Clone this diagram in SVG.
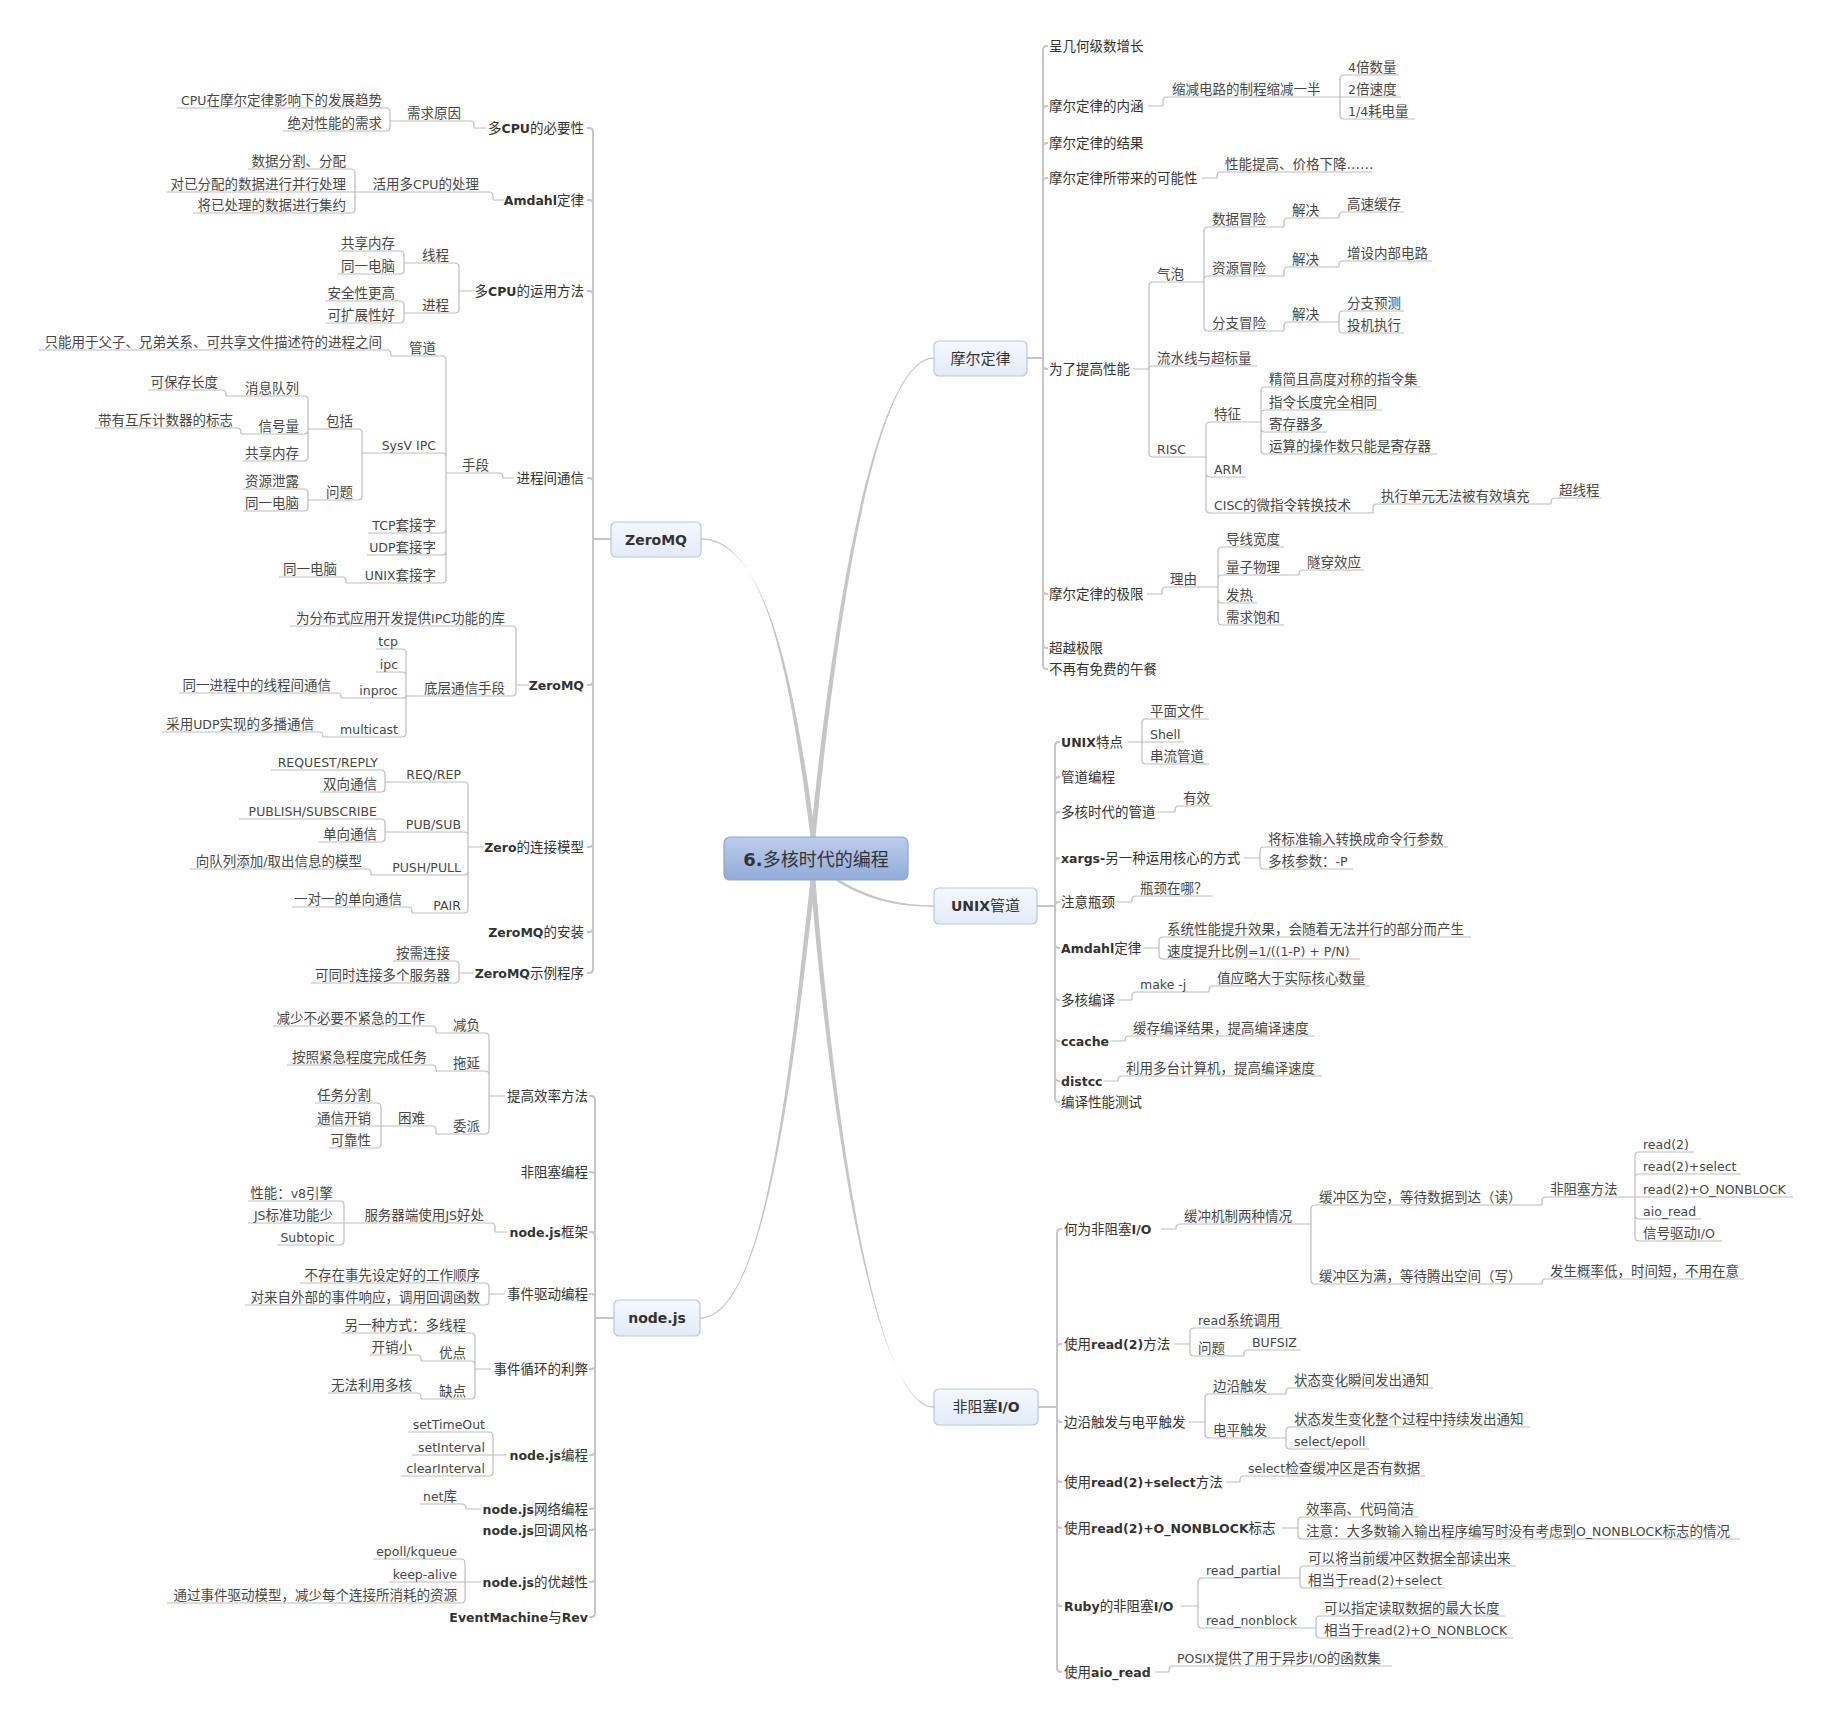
<svg xmlns="http://www.w3.org/2000/svg" width="1828" height="1717" viewBox="0 0 1828 1717">
<defs>
<linearGradient id="gc" x1="0" y1="0" x2="0" y2="1"><stop offset="0" stop-color="#bccdeb"/><stop offset="1" stop-color="#90acd9"/></linearGradient>
<linearGradient id="gb" x1="0" y1="0" x2="0" y2="1"><stop offset="0" stop-color="#f5f8fe"/><stop offset="1" stop-color="#e3ebf8"/></linearGradient>
<style>
.t{font-family:"DejaVu Sans","Noto Sans CJK SC",sans-serif;font-size:13.5px;fill:#474747}
.e{font-size:12.5px}
.b{font-weight:bold;fill:#333}
.h{fill:#333}
.r{text-anchor:end}
.c{fill:none;stroke:#bdbdbd;stroke-width:1.2}
.m{fill:none;stroke:#c6c6c6;stroke-width:2}
.k{fill:#c6c6c6}
.bx{fill:url(#gb);stroke:#b7c7e0;stroke-width:1.2}
.bt{font-family:"DejaVu Sans","Noto Sans CJK SC",sans-serif;font-size:15px;fill:#333;text-anchor:middle}
</style>
</defs>
<rect width="1828" height="1717" fill="#fff"/>
<g id="connectors">
<path class="k" d="M810.5 837C793 700 770 538.3 701 538.3L701 539.7C770 539.7 797 700 815.5 837Z"/>
<path class="k" d="M810.5 837C843 520 888 357.3 934 357.3L934 358.7C888 358.7 847 520 815.5 837Z"/>
<path class="k" d="M810.5 880C793 1030 770 1317.3 700 1317.3L700 1318.7C770 1318.7 797 1030 815.5 880Z"/>
<path class="k" d="M810.5 880C833 1150 878 1406.3 934 1406.3L934 1407.7C878 1407.7 837 1150 815.5 880Z"/>
<path class="k" d="M837 878.5C870 898.5 900 905.3 934 905.3L934 906.7C900 906.7 870 901.5 837 881.5Z"/>
<!-- ZeroMQ main spine -->
<path class="m" d="M611 539H593M593 539V132Q593 128 589 128H587M593 539V204Q593 200 589 200H587M593 539V295Q593 291 589 291H587M593 539V482Q593 478 589 478H587M593 539V681Q593 685 589 685H587M593 539V843Q593 847 589 847H587M593 539V928Q593 932 589 932H587M593 539V969Q593 973 589 973H587"/>
<path class="c" d="M474 128H486M474 128V125Q474 121 470 121H390M390 121V112Q390 108 386 108H177M390 121V127Q390 131 386 131H283"/>
<path class="c" d="M493 200H504M493 200V196Q493 192 489 192H355M355 192V173Q355 169 351 169H248M355 192H166M355 192V209Q355 213 351 213H193"/>
<path class="c" d="M459 291H474M459 291V267Q459 263 455 263H404M404 263V255Q404 251 400 251H338M404 263V270Q404 274 400 274H338M459 291V309Q459 313 455 313H404M404 313V305Q404 301 400 301H325M404 313V319Q404 323 400 323H325"/>
<path class="c" d="M503 478H514M503 478V477Q503 473 499 473H446M446 473V360Q446 356 442 356H391M391 356V354Q391 350 387 350H39M446 473V457Q446 453 442 453H362M362 453V433Q362 429 358 429H308M308 429V400Q308 396 304 396H226M226 396V394Q226 390 222 390H148M308 429V430Q308 434 304 434H241M241 434V432Q241 428 237 428H95M308 429V457Q308 461 304 461H243M362 453V496Q362 500 358 500H308M308 500V493Q308 489 304 489H243M308 500V507Q308 511 304 511H243M446 473V529Q446 533 442 533H368M446 473V551Q446 555 442 555H367M446 473V579Q446 583 442 583H346M346 583V581Q346 577 342 577H279"/>
<path class="c" d="M516 685H529M516 685V630Q516 626 512 626H290M516 685V692Q516 696 512 696H406M406 696V653Q406 649 402 649H376M406 696V676Q406 672 402 672H376M406 696Q406 698 402 698H341M341 698V697Q341 693 337 693H179M406 696V733Q406 737 402 737H323M323 737V736Q323 732 319 732H162"/>
<path class="c" d="M468 847H484M468 847V786Q468 782 464 782H385M385 782V774Q385 770 381 770H271M385 782V788Q385 792 381 792H320M468 847V836Q468 832 464 832H385M385 832V823Q385 819 381 819H239M385 832V838Q385 842 381 842H318M468 847V871Q468 875 464 875H371M371 875V873Q371 869 367 869H190M468 847V909Q468 913 464 913H412M412 913V911Q412 907 408 907H292"/>
<path class="c" d="M459 973H474M459 973V965Q459 961 455 961H393M459 973V979Q459 983 455 983H311"/>
<!-- node.js main spine -->
<path class="m" d="M614 1318H595M595 1318V1100Q595 1096 591 1096H589M595 1318V1176Q595 1172 591 1172H589M595 1318V1236Q595 1232 591 1232H589M595 1318V1298Q595 1294 591 1294H589M595 1318V1365Q595 1369 591 1369H589M595 1318V1451Q595 1455 591 1455H589M595 1318V1505Q595 1509 591 1509H589M595 1318V1526Q595 1530 591 1530H589M595 1318V1578Q595 1582 591 1582H589M595 1318V1613Q595 1617 591 1617H589"/>
<path class="c" d="M489 1096H505M489 1096V1037Q489 1033 485 1033H436M436 1033V1030Q436 1026 432 1026H273M489 1096V1075Q489 1071 485 1071H436M436 1071V1069Q436 1065 432 1065H287M489 1096V1130Q489 1134 485 1134H436M436 1134V1130Q436 1126 432 1126H381M381 1126V1107Q381 1103 377 1103H315M381 1126H315M381 1126V1144Q381 1148 377 1148H329"/>
<path class="c" d="M495 1232H507M495 1232V1227Q495 1223 491 1223H344M344 1223V1205Q344 1201 340 1201H248M344 1223H248M344 1223V1241Q344 1245 340 1245H277"/>
<path class="c" d="M489 1294H505M489 1294V1287Q489 1283 485 1283H300M489 1294V1301Q489 1305 485 1305H245"/>
<path class="c" d="M475 1369H491M475 1369V1337Q475 1333 471 1333H341M475 1369V1365Q475 1361 471 1361H421M421 1361V1359Q421 1355 417 1355H369M475 1369V1395Q475 1399 471 1399H421M421 1399V1397Q421 1393 417 1393H328"/>
<path class="c" d="M493 1455H507M493 1455V1436Q493 1432 489 1432H408M493 1455H412M493 1455V1472Q493 1476 489 1476H401"/>
<path class="c" d="M466 1509H481M466 1509V1508Q466 1504 462 1504H420"/>
<path class="c" d="M465 1582H481M465 1582V1563Q465 1559 461 1559H373M465 1582H389M465 1582V1599Q465 1603 461 1603H167"/>
<!-- Moore main spine -->
<path class="m" d="M1027 358H1043M1043 358V50Q1043 46 1047 46H1048M1043 358V110Q1043 106 1047 106H1048M1043 358V147Q1043 143 1047 143H1048M1043 358V182Q1043 178 1047 178H1048M1043 358V365Q1043 369 1047 369H1048M1043 358V590Q1043 594 1047 594H1048M1043 358V644Q1043 648 1047 648H1048M1043 358V665Q1043 669 1047 669H1048"/>
<path class="c" d="M1148 106H1163M1163 106V101Q1163 97 1167 97H1340M1340 97V79Q1340 75 1344 75H1399M1340 97H1401M1340 97V115Q1340 119 1344 119H1415"/>
<path class="c" d="M1202 178H1217M1217 178V176Q1217 172 1221 172H1372"/>
<path class="c" d="M1133 369H1149M1149 369V286Q1149 282 1153 282H1204M1204 282V231Q1204 227 1208 227H1284M1284 227V222Q1284 218 1288 218H1339M1339 218V216Q1339 212 1343 212H1404M1204 282V280Q1204 276 1208 276H1284M1284 276V271Q1284 267 1288 267H1339M1339 267V265Q1339 261 1343 261H1432M1204 282V327Q1204 331 1208 331H1284M1284 331V326Q1284 322 1288 322H1339M1339 322V315Q1339 311 1343 311H1404M1339 322V329Q1339 333 1343 333H1404M1149 369Q1149 366 1153 366H1257M1149 369V453Q1149 457 1153 457H1206M1206 457V426Q1206 422 1210 422H1261M1261 422V391Q1261 387 1265 387H1421M1261 422V414Q1261 410 1265 410H1382M1261 422V428Q1261 432 1265 432H1327M1261 422V450Q1261 454 1265 454H1437M1206 457V473Q1206 477 1210 477H1246M1206 457V509Q1206 513 1210 513H1373M1373 513V508Q1373 504 1377 504H1551M1551 504V502Q1551 498 1555 498H1602"/>
<path class="c" d="M1147 594H1162M1162 594V591Q1162 587 1166 587H1218M1218 587V551Q1218 547 1222 547H1284M1218 587V579Q1218 575 1222 575H1299M1299 575V574Q1299 570 1303 570H1364M1218 587V599Q1218 603 1222 603H1257M1218 587V621Q1218 625 1222 625H1284"/>
<!-- UNIX main spine -->
<path class="m" d="M1037 906H1055M1055 906V746Q1055 742 1059 742H1060M1055 906V781Q1055 777 1059 777H1060M1055 906V816Q1055 812 1059 812H1060M1055 906V862Q1055 858 1059 858H1060M1055 906V906Q1055 902 1059 902H1060M1055 906V944Q1055 948 1059 948H1060M1055 906V996Q1055 1000 1059 1000H1060M1055 906V1037Q1055 1041 1059 1041H1060M1055 906V1077Q1055 1081 1059 1081H1060M1055 906V1098Q1055 1102 1059 1102H1060"/>
<path class="c" d="M1128 742H1142M1142 742V723Q1142 719 1146 719H1209M1142 742H1184M1142 742V760Q1142 764 1146 764H1209"/>
<path class="c" d="M1158 812H1175M1175 812V810Q1175 806 1179 806H1213"/>
<path class="c" d="M1244 858H1260M1260 858V851Q1260 847 1264 847H1448M1260 858V865Q1260 869 1264 869H1353"/>
<path class="c" d="M1117 902H1132M1132 902V900Q1132 896 1136 896H1213"/>
<path class="c" d="M1143 948H1159M1159 948V941Q1159 937 1163 937H1471M1159 948V955Q1159 959 1163 959H1360"/>
<path class="c" d="M1117 1000H1132M1132 1000V996Q1132 992 1136 992H1209M1209 992V990Q1209 986 1213 986H1370"/>
<path class="c" d="M1110 1041H1125M1125 1041V1040Q1125 1036 1129 1036H1315"/>
<path class="c" d="M1104 1081H1118M1118 1081V1080Q1118 1076 1122 1076H1322"/>
<!-- non-blocking main spine -->
<path class="m" d="M1038 1407H1057M1057 1407V1233Q1057 1229 1061 1229H1062M1057 1407V1348Q1057 1344 1061 1344H1062M1057 1407V1418Q1057 1422 1061 1422H1062M1057 1407V1478Q1057 1482 1061 1482H1062M1057 1407V1524Q1057 1528 1061 1528H1062M1057 1407V1602Q1057 1606 1061 1606H1062M1057 1407V1668Q1057 1672 1061 1672H1062"/>
<path class="c" d="M1161 1229H1176M1176 1229V1228Q1176 1224 1180 1224H1311M1311 1224V1209Q1311 1205 1315 1205H1542M1542 1205V1201Q1542 1197 1546 1197H1635M1635 1197V1156Q1635 1152 1639 1152H1694M1635 1197V1178Q1635 1174 1639 1174H1741M1635 1197H1793M1635 1197V1215Q1635 1219 1639 1219H1701M1635 1197V1237Q1635 1241 1639 1241H1722M1311 1224V1280Q1311 1284 1315 1284H1542M1542 1284V1283Q1542 1279 1546 1279H1744"/>
<path class="c" d="M1174 1344H1190M1190 1344V1332Q1190 1328 1194 1328H1283M1190 1344V1352Q1190 1356 1194 1356H1244M1244 1356V1354Q1244 1350 1248 1350H1301"/>
<path class="c" d="M1189 1422H1205M1205 1422V1398Q1205 1394 1209 1394H1286M1286 1394V1392Q1286 1388 1290 1388H1433M1205 1422V1434Q1205 1438 1209 1438H1286M1286 1438V1431Q1286 1427 1290 1427H1530M1286 1438V1445Q1286 1449 1290 1449H1369"/>
<path class="c" d="M1226 1482H1240M1240 1482V1480Q1240 1476 1244 1476H1425"/>
<path class="c" d="M1282 1528H1298M1298 1528V1521Q1298 1517 1302 1517H1419M1298 1528V1535Q1298 1539 1302 1539H1740"/>
<path class="c" d="M1181 1606H1198M1198 1606V1582Q1198 1578 1202 1578H1300M1300 1578V1570Q1300 1566 1304 1566H1516M1300 1578V1584Q1300 1588 1304 1588H1445M1198 1606V1624Q1198 1628 1202 1628H1316M1316 1628V1620Q1316 1616 1320 1616H1505M1316 1628V1634Q1316 1638 1320 1638H1513"/>
<path class="c" d="M1155 1672H1169M1169 1672V1670Q1169 1666 1173 1666H1392"/>
</g>
<g id="root"><rect x="724" y="837" width="184" height="43" rx="6" fill="url(#gc)" stroke="#8da6d0" stroke-width="1.2"/><text x="816" y="866" style="font-family:'DejaVu Sans','Noto Sans CJK SC',sans-serif;font-size:18px;fill:#333;text-anchor:middle"><tspan font-weight="bold">6.</tspan>多核时代的编程</text></g>
<g id="b-zeromq"><rect class="bx" x="611" y="522" width="90" height="35" rx="5"/><text class="bt" x="656" y="545" font-weight="bold" style="font-size:14px">ZeroMQ</text></g>
<g id="b-nodejs"><rect class="bx" x="614" y="1300" width="86" height="36" rx="5"/><text class="bt" x="657" y="1323" font-weight="bold" style="font-size:14px">node.js</text></g>
<g id="b-moore"><rect class="bx" x="934" y="341" width="93" height="35" rx="5"/><text class="bt" x="980.5" y="364">摩尔定律</text></g>
<g id="b-unix"><rect class="bx" x="934" y="888" width="103" height="36" rx="5"/><text class="bt" x="985.5" y="911"><tspan font-weight="bold" style="font-size:14px">UNIX</tspan>管道</text></g>
<g id="b-nbio"><rect class="bx" x="934" y="1389" width="104" height="36" rx="5"/><text class="bt" x="986" y="1412">非阻塞<tspan font-weight="bold" style="font-size:14px">I/O</tspan></text></g>
<g id="n1"><text class="t r h" x="584" y="133">多<tspan class="e b">CPU</tspan>的必要性</text></g>
<g id="n2"><text class="t r" x="461" y="118">需求原因</text></g>
<g id="n3"><text class="t r" x="382" y="105"><tspan class="e">CPU</tspan>在摩尔定律影响下的发展趋势</text></g>
<g id="n4"><text class="t r" x="382" y="128">绝对性能的需求</text></g>
<g id="n5"><text class="t r h" x="584" y="205"><tspan class="e b">Amdahl</tspan>定律</text></g>
<g id="n6"><text class="t r" x="479" y="189">活用多<tspan class="e">CPU</tspan>的处理</text></g>
<g id="n7"><text class="t r" x="346" y="166">数据分割、分配</text></g>
<g id="n8"><text class="t r" x="346" y="189">对已分配的数据进行并行处理</text></g>
<g id="n9"><text class="t r" x="346" y="210">将已处理的数据进行集约</text></g>
<g id="n10"><text class="t r h" x="584" y="296">多<tspan class="e b">CPU</tspan>的运用方法</text></g>
<g id="n11"><text class="t r" x="449" y="260">线程</text></g>
<g id="n12"><text class="t r" x="395" y="248">共享内存</text></g>
<g id="n13"><text class="t r" x="395" y="271">同一电脑</text></g>
<g id="n14"><text class="t r" x="449" y="310">进程</text></g>
<g id="n15"><text class="t r" x="395" y="298">安全性更高</text></g>
<g id="n16"><text class="t r" x="395" y="320">可扩展性好</text></g>
<g id="n17"><text class="t r h" x="584" y="483">进程间通信</text></g>
<g id="n18"><text class="t r" x="489" y="470">手段</text></g>
<g id="n19"><text class="t r" x="436" y="353">管道</text></g>
<g id="n20"><text class="t r" x="382" y="347">只能用于父子、兄弟关系、可共享文件描述符的进程之间</text></g>
<g id="n21"><text class="t r e" x="436" y="450">SysV IPC</text></g>
<g id="n22"><text class="t r" x="353" y="426">包括</text></g>
<g id="n23"><text class="t r" x="299" y="393">消息队列</text></g>
<g id="n24"><text class="t r" x="218" y="387">可保存长度</text></g>
<g id="n25"><text class="t r" x="299" y="431">信号量</text></g>
<g id="n26"><text class="t r" x="233" y="425">带有互斥计数器的标志</text></g>
<g id="n27"><text class="t r" x="299" y="458">共享内存</text></g>
<g id="n28"><text class="t r" x="353" y="497">问题</text></g>
<g id="n29"><text class="t r" x="299" y="486">资源泄露</text></g>
<g id="n30"><text class="t r" x="299" y="508">同一电脑</text></g>
<g id="n31"><text class="t r" x="436" y="530"><tspan class="e">TCP</tspan>套接字</text></g>
<g id="n32"><text class="t r" x="436" y="552"><tspan class="e">UDP</tspan>套接字</text></g>
<g id="n33"><text class="t r" x="436" y="580"><tspan class="e">UNIX</tspan>套接字</text></g>
<g id="n34"><text class="t r" x="337" y="574">同一电脑</text></g>
<g id="n35"><text class="t r h e b" x="584" y="690">ZeroMQ</text></g>
<g id="n36"><text class="t r" x="505" y="623">为分布式应用开发提供<tspan class="e">IPC</tspan>功能的库</text></g>
<g id="n37"><text class="t r" x="505" y="693">底层通信手段</text></g>
<g id="n38"><text class="t r e" x="398" y="646">tcp</text></g>
<g id="n39"><text class="t r e" x="398" y="669">ipc</text></g>
<g id="n40"><text class="t r e" x="398" y="695">inproc</text></g>
<g id="n41"><text class="t r" x="331" y="690">同一进程中的线程间通信</text></g>
<g id="n42"><text class="t r e" x="398" y="734">multicast</text></g>
<g id="n43"><text class="t r" x="314" y="729">采用<tspan class="e">UDP</tspan>实现的多播通信</text></g>
<g id="n44"><text class="t r h" x="584" y="852"><tspan class="e b">Zero</tspan>的连接模型</text></g>
<g id="n45"><text class="t r e" x="461" y="779">REQ/REP</text></g>
<g id="n46"><text class="t r e" x="378" y="767">REQUEST/REPLY</text></g>
<g id="n47"><text class="t r" x="377" y="789">双向通信</text></g>
<g id="n48"><text class="t r e" x="461" y="829">PUB/SUB</text></g>
<g id="n49"><text class="t r e" x="377" y="816">PUBLISH/SUBSCRIBE</text></g>
<g id="n50"><text class="t r" x="377" y="839">单向通信</text></g>
<g id="n51"><text class="t r e" x="461" y="872">PUSH/PULL</text></g>
<g id="n52"><text class="t r" x="362" y="866">向队列添加<tspan class="e">/</tspan>取出信息的模型</text></g>
<g id="n53"><text class="t r e" x="461" y="910">PAIR</text></g>
<g id="n54"><text class="t r" x="402" y="904">一对一的单向通信</text></g>
<g id="n55"><text class="t r h" x="584" y="937"><tspan class="e b">ZeroMQ</tspan>的安装</text></g>
<g id="n56"><text class="t r h" x="584" y="978"><tspan class="e b">ZeroMQ</tspan>示例程序</text></g>
<g id="n57"><text class="t r" x="450" y="958">按需连接</text></g>
<g id="n58"><text class="t r" x="450" y="980">可同时连接多个服务器</text></g>
<g id="n59"><text class="t r h" x="588" y="1101">提高效率方法</text></g>
<g id="n60"><text class="t r" x="480" y="1030">减负</text></g>
<g id="n61"><text class="t r" x="425" y="1023">减少不必要不紧急的工作</text></g>
<g id="n62"><text class="t r" x="480" y="1068">拖延</text></g>
<g id="n63"><text class="t r" x="427" y="1062">按照紧急程度完成任务</text></g>
<g id="n64"><text class="t r" x="480" y="1131">委派</text></g>
<g id="n65"><text class="t r" x="425" y="1123">困难</text></g>
<g id="n66"><text class="t r" x="371" y="1100">任务分割</text></g>
<g id="n67"><text class="t r" x="371" y="1123">通信开销</text></g>
<g id="n68"><text class="t r" x="371" y="1145">可靠性</text></g>
<g id="n69"><text class="t r h" x="588" y="1177">非阻塞编程</text></g>
<g id="n70"><text class="t r h" x="588" y="1237"><tspan class="e b">node.js</tspan>框架</text></g>
<g id="n71"><text class="t r" x="484" y="1220">服务器端使用<tspan class="e">JS</tspan>好处</text></g>
<g id="n72"><text class="t r" x="333" y="1198">性能：<tspan class="e">v8</tspan>引擎</text></g>
<g id="n73"><text class="t r" x="333" y="1220"><tspan class="e">JS</tspan>标准功能少</text></g>
<g id="n74"><text class="t r e" x="335" y="1242">Subtopic</text></g>
<g id="n75"><text class="t r h" x="588" y="1299">事件驱动编程</text></g>
<g id="n76"><text class="t r" x="480" y="1280">不存在事先设定好的工作顺序</text></g>
<g id="n77"><text class="t r" x="480" y="1302">对来自外部的事件响应，调用回调函数</text></g>
<g id="n78"><text class="t r h" x="588" y="1374">事件循环的利弊</text></g>
<g id="n79"><text class="t r" x="466" y="1330">另一种方式：多线程</text></g>
<g id="n80"><text class="t r" x="466" y="1358">优点</text></g>
<g id="n81"><text class="t r" x="412" y="1352">开销小</text></g>
<g id="n82"><text class="t r" x="466" y="1396">缺点</text></g>
<g id="n83"><text class="t r" x="412" y="1390">无法利用多核</text></g>
<g id="n84"><text class="t r h" x="588" y="1460"><tspan class="e b">node.js</tspan>编程</text></g>
<g id="n85"><text class="t r e" x="485" y="1429">setTimeOut</text></g>
<g id="n86"><text class="t r e" x="485" y="1452">setInterval</text></g>
<g id="n87"><text class="t r e" x="485" y="1473">clearInterval</text></g>
<g id="n88"><text class="t r h" x="588" y="1514"><tspan class="e b">node.js</tspan>网络编程</text></g>
<g id="n89"><text class="t r" x="457" y="1501"><tspan class="e">net</tspan>库</text></g>
<g id="n90"><text class="t r h" x="588" y="1535"><tspan class="e b">node.js</tspan>回调风格</text></g>
<g id="n91"><text class="t r h" x="588" y="1587"><tspan class="e b">node.js</tspan>的优越性</text></g>
<g id="n92"><text class="t r e" x="457" y="1556">epoll/kqueue</text></g>
<g id="n93"><text class="t r e" x="457" y="1579">keep-alive</text></g>
<g id="n94"><text class="t r" x="457" y="1600">通过事件驱动模型，减少每个连接所消耗的资源</text></g>
<g id="n95"><text class="t r h" x="588" y="1622"><tspan class="e b">EventMachine</tspan>与<tspan class="e b">Rev</tspan></text></g>
<g id="n96"><text class="t h" x="1049" y="51">呈几何级数增长</text></g>
<g id="n97"><text class="t h" x="1049" y="111">摩尔定律的内涵</text></g>
<g id="n98"><text class="t" x="1172" y="94">缩减电路的制程缩减一半</text></g>
<g id="n99"><text class="t" x="1348" y="72"><tspan class="e">4</tspan>倍数量</text></g>
<g id="n100"><text class="t" x="1348" y="94"><tspan class="e">2</tspan>倍速度</text></g>
<g id="n101"><text class="t" x="1348" y="116"><tspan class="e">1/4</tspan>耗电量</text></g>
<g id="n102"><text class="t h" x="1049" y="148">摩尔定律的结果</text></g>
<g id="n103"><text class="t h" x="1049" y="183">摩尔定律所带来的可能性</text></g>
<g id="n104"><text class="t" x="1225" y="169">性能提高、价格下降……</text></g>
<g id="n105"><text class="t h" x="1049" y="374">为了提高性能</text></g>
<g id="n106"><text class="t" x="1157" y="279">气泡</text></g>
<g id="n107"><text class="t" x="1212" y="224">数据冒险</text></g>
<g id="n108"><text class="t" x="1292" y="215">解决</text></g>
<g id="n109"><text class="t" x="1347" y="209">高速缓存</text></g>
<g id="n110"><text class="t" x="1212" y="273">资源冒险</text></g>
<g id="n111"><text class="t" x="1292" y="264">解决</text></g>
<g id="n112"><text class="t" x="1347" y="258">增设内部电路</text></g>
<g id="n113"><text class="t" x="1212" y="328">分支冒险</text></g>
<g id="n114"><text class="t" x="1292" y="319">解决</text></g>
<g id="n115"><text class="t" x="1347" y="308">分支预测</text></g>
<g id="n116"><text class="t" x="1347" y="330">投机执行</text></g>
<g id="n117"><text class="t" x="1157" y="363">流水线与超标量</text></g>
<g id="n118"><text class="t e" x="1157" y="454">RISC</text></g>
<g id="n119"><text class="t" x="1214" y="419">特征</text></g>
<g id="n120"><text class="t" x="1269" y="384">精简且高度对称的指令集</text></g>
<g id="n121"><text class="t" x="1269" y="407">指令长度完全相同</text></g>
<g id="n122"><text class="t" x="1269" y="429">寄存器多</text></g>
<g id="n123"><text class="t" x="1269" y="451">运算的操作数只能是寄存器</text></g>
<g id="n124"><text class="t e" x="1214" y="474">ARM</text></g>
<g id="n125"><text class="t" x="1214" y="510"><tspan class="e">CISC</tspan>的微指令转换技术</text></g>
<g id="n126"><text class="t" x="1381" y="501">执行单元无法被有效填充</text></g>
<g id="n127"><text class="t" x="1559" y="495">超线程</text></g>
<g id="n128"><text class="t h" x="1049" y="599">摩尔定律的极限</text></g>
<g id="n129"><text class="t" x="1170" y="584">理由</text></g>
<g id="n130"><text class="t" x="1226" y="544">导线宽度</text></g>
<g id="n131"><text class="t" x="1226" y="572">量子物理</text></g>
<g id="n132"><text class="t" x="1307" y="567">隧穿效应</text></g>
<g id="n133"><text class="t" x="1226" y="600">发热</text></g>
<g id="n134"><text class="t" x="1226" y="622">需求饱和</text></g>
<g id="n135"><text class="t h" x="1049" y="653">超越极限</text></g>
<g id="n136"><text class="t h" x="1049" y="674">不再有免费的午餐</text></g>
<g id="n137"><text class="t h" x="1061" y="747"><tspan class="e b">UNIX</tspan>特点</text></g>
<g id="n138"><text class="t" x="1150" y="716">平面文件</text></g>
<g id="n139"><text class="t e" x="1150" y="739">Shell</text></g>
<g id="n140"><text class="t" x="1150" y="761">串流管道</text></g>
<g id="n141"><text class="t h" x="1061" y="782">管道编程</text></g>
<g id="n142"><text class="t h" x="1061" y="817">多核时代的管道</text></g>
<g id="n143"><text class="t" x="1183" y="803">有效</text></g>
<g id="n144"><text class="t h" x="1061" y="863"><tspan class="e b">xargs-</tspan>另一种运用核心的方式</text></g>
<g id="n145"><text class="t" x="1268" y="844">将标准输入转换成命令行参数</text></g>
<g id="n146"><text class="t" x="1268" y="866">多核参数：<tspan class="e">-P</tspan></text></g>
<g id="n147"><text class="t h" x="1061" y="907">注意瓶颈</text></g>
<g id="n148"><text class="t" x="1140" y="893">瓶颈在哪？</text></g>
<g id="n149"><text class="t h" x="1061" y="953"><tspan class="e b">Amdahl</tspan>定律</text></g>
<g id="n150"><text class="t" x="1167" y="934">系统性能提升效果，会随着无法并行的部分而产生</text></g>
<g id="n151"><text class="t" x="1167" y="956">速度提升比例<tspan class="e">=1/((1-P) + P/N)</tspan></text></g>
<g id="n152"><text class="t h" x="1061" y="1005">多核编译</text></g>
<g id="n153"><text class="t e" x="1140" y="989">make -j</text></g>
<g id="n154"><text class="t" x="1217" y="983">值应略大于实际核心数量</text></g>
<g id="n155"><text class="t h e b" x="1061" y="1046">ccache</text></g>
<g id="n156"><text class="t" x="1133" y="1033">缓存编译结果，提高编译速度</text></g>
<g id="n157"><text class="t h e b" x="1061" y="1086">distcc</text></g>
<g id="n158"><text class="t" x="1126" y="1073">利用多台计算机，提高编译速度</text></g>
<g id="n159"><text class="t h" x="1061" y="1107">编译性能测试</text></g>
<g id="n160"><text class="t h" x="1064" y="1234">何为非阻塞<tspan class="e b">I/O</tspan></text></g>
<g id="n161"><text class="t" x="1184" y="1221">缓冲机制两种情况</text></g>
<g id="n162"><text class="t" x="1319" y="1202">缓冲区为空，等待数据到达（读）</text></g>
<g id="n163"><text class="t" x="1550" y="1194">非阻塞方法</text></g>
<g id="n164"><text class="t e" x="1643" y="1149">read(2)</text></g>
<g id="n165"><text class="t e" x="1643" y="1171">read(2)+select</text></g>
<g id="n166"><text class="t e" x="1643" y="1194">read(2)+O_NONBLOCK</text></g>
<g id="n167"><text class="t e" x="1643" y="1216">aio_read</text></g>
<g id="n168"><text class="t" x="1643" y="1238">信号驱动<tspan class="e">I/O</tspan></text></g>
<g id="n169"><text class="t" x="1319" y="1281">缓冲区为满，等待腾出空间（写）</text></g>
<g id="n170"><text class="t" x="1550" y="1276">发生概率低，时间短，不用在意</text></g>
<g id="n171"><text class="t h" x="1064" y="1349">使用<tspan class="e b">read(2)</tspan>方法</text></g>
<g id="n172"><text class="t" x="1198" y="1325"><tspan class="e">read</tspan>系统调用</text></g>
<g id="n173"><text class="t" x="1198" y="1353">问题</text></g>
<g id="n174"><text class="t e" x="1252" y="1347">BUFSIZ</text></g>
<g id="n175"><text class="t h" x="1064" y="1427">边沿触发与电平触发</text></g>
<g id="n176"><text class="t" x="1213" y="1391">边沿触发</text></g>
<g id="n177"><text class="t" x="1294" y="1385">状态变化瞬间发出通知</text></g>
<g id="n178"><text class="t" x="1213" y="1435">电平触发</text></g>
<g id="n179"><text class="t" x="1294" y="1424">状态发生变化整个过程中持续发出通知</text></g>
<g id="n180"><text class="t e" x="1294" y="1446">select/epoll</text></g>
<g id="n181"><text class="t h" x="1064" y="1487">使用<tspan class="e b">read(2)+select</tspan>方法</text></g>
<g id="n182"><text class="t" x="1248" y="1473"><tspan class="e">select</tspan>检查缓冲区是否有数据</text></g>
<g id="n183"><text class="t h" x="1064" y="1533">使用<tspan class="e b">read(2)+O_NONBLOCK</tspan>标志</text></g>
<g id="n184"><text class="t" x="1306" y="1514">效率高、代码简洁</text></g>
<g id="n185"><text class="t" x="1306" y="1536">注意：大多数输入输出程序编写时没有考虑到<tspan class="e">O_NONBLOCK</tspan>标志的情况</text></g>
<g id="n186"><text class="t h" x="1064" y="1611"><tspan class="e b">Ruby</tspan>的非阻塞<tspan class="e b">I/O</tspan></text></g>
<g id="n187"><text class="t e" x="1206" y="1575">read_partial</text></g>
<g id="n188"><text class="t" x="1308" y="1563">可以将当前缓冲区数据全部读出来</text></g>
<g id="n189"><text class="t" x="1308" y="1585">相当于<tspan class="e">read(2)+select</tspan></text></g>
<g id="n190"><text class="t e" x="1206" y="1625">read_nonblock</text></g>
<g id="n191"><text class="t" x="1324" y="1613">可以指定读取数据的最大长度</text></g>
<g id="n192"><text class="t" x="1324" y="1635">相当于<tspan class="e">read(2)+O_NONBLOCK</tspan></text></g>
<g id="n193"><text class="t h" x="1064" y="1677">使用<tspan class="e b">aio_read</tspan></text></g>
<g id="n194"><text class="t" x="1177" y="1663"><tspan class="e">POSIX</tspan>提供了用于异步<tspan class="e">I/O</tspan>的函数集</text></g>
</svg>
